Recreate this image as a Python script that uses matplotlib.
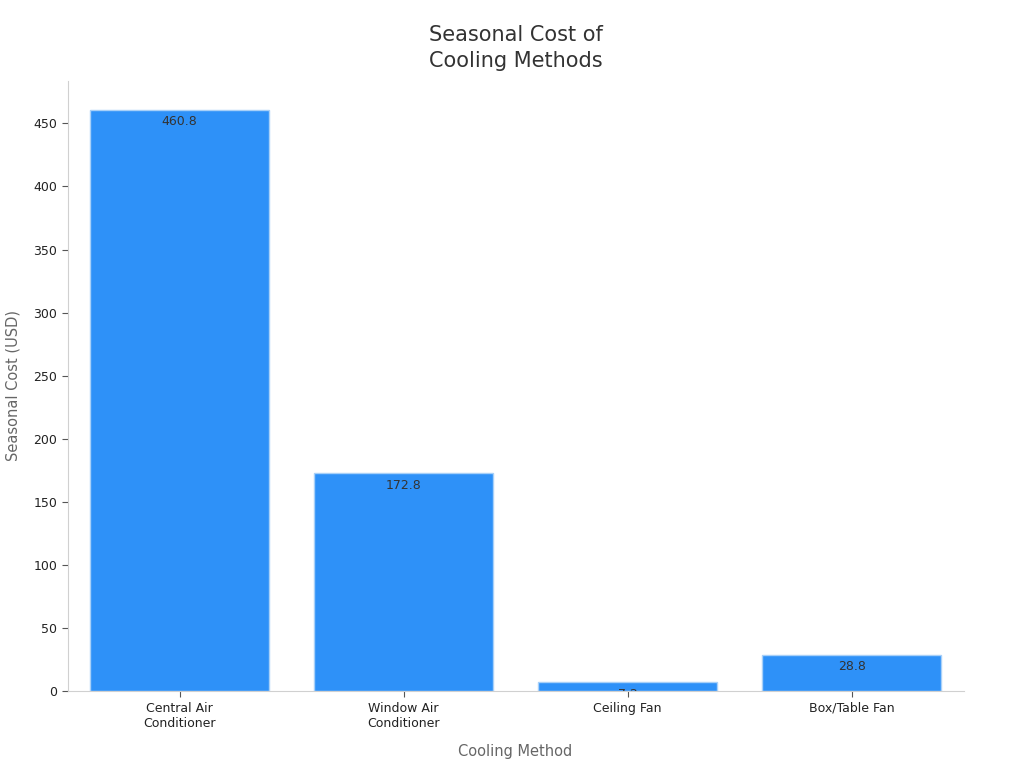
import matplotlib
matplotlib.use("Agg")
import matplotlib.pyplot as plt
from matplotlib.ticker import MultipleLocator
from matplotlib.transforms import TransformedBbox

categories = ["Central Air\nConditioner", "Window Air\nConditioner", "Ceiling Fan", "Box/Table Fan"]
costs = [460.8, 172.8, 7.2, 28.8]

fig = plt.figure(figsize=(10.24, 7.68), dpi=100)
ax = fig.add_axes([0.066, 0.1, 0.875, 0.795])
bars = ax.bar(range(len(categories)), costs, width=0.8, color="#2E91F8",
              edgecolor="#A8D0F8", linewidth=1)
ax.set_xlim(-0.5, len(categories) - 0.5)
ax.set_ylim(0, max(costs) * 1.05)
ax.yaxis.set_major_locator(MultipleLocator(50))
ax.set_xticks(range(len(categories)))
ax.set_xticklabels(categories, fontsize=9, color="#222222")
ax.tick_params(axis="y", labelsize=9, labelcolor="#222222", color="#555555", length=4)
ax.tick_params(axis="x", color="#555555", length=4)
for s in ["top", "right"]:
    ax.spines[s].set_visible(False)
for s in ["left", "bottom"]:
    ax.spines[s].set_color("#D0D0D0")
ax.set_xlabel("Cooling Method", fontsize=10.5, color="#666666", labelpad=10)
ax.set_ylabel("Seasonal Cost (USD)", fontsize=10.5, color="#666666", labelpad=9)
ax.set_title("Seasonal Cost of\nCooling Methods", fontsize=15, color="#333333",
             pad=10, linespacing=1.35)

for b, v in zip(bars, costs):
    t = ax.annotate(f"{v:.1f}", (b.get_x() + b.get_width() / 2, b.get_height()),
                    xytext=(0, -4), textcoords="offset points",
                    ha="center", va="top", fontsize=9, color="#333333")
    t.set_clip_on(True)
    t.set_clip_box(TransformedBbox(b.get_bbox(), ax.transData))

fig.savefig("out.png", dpi=100)
